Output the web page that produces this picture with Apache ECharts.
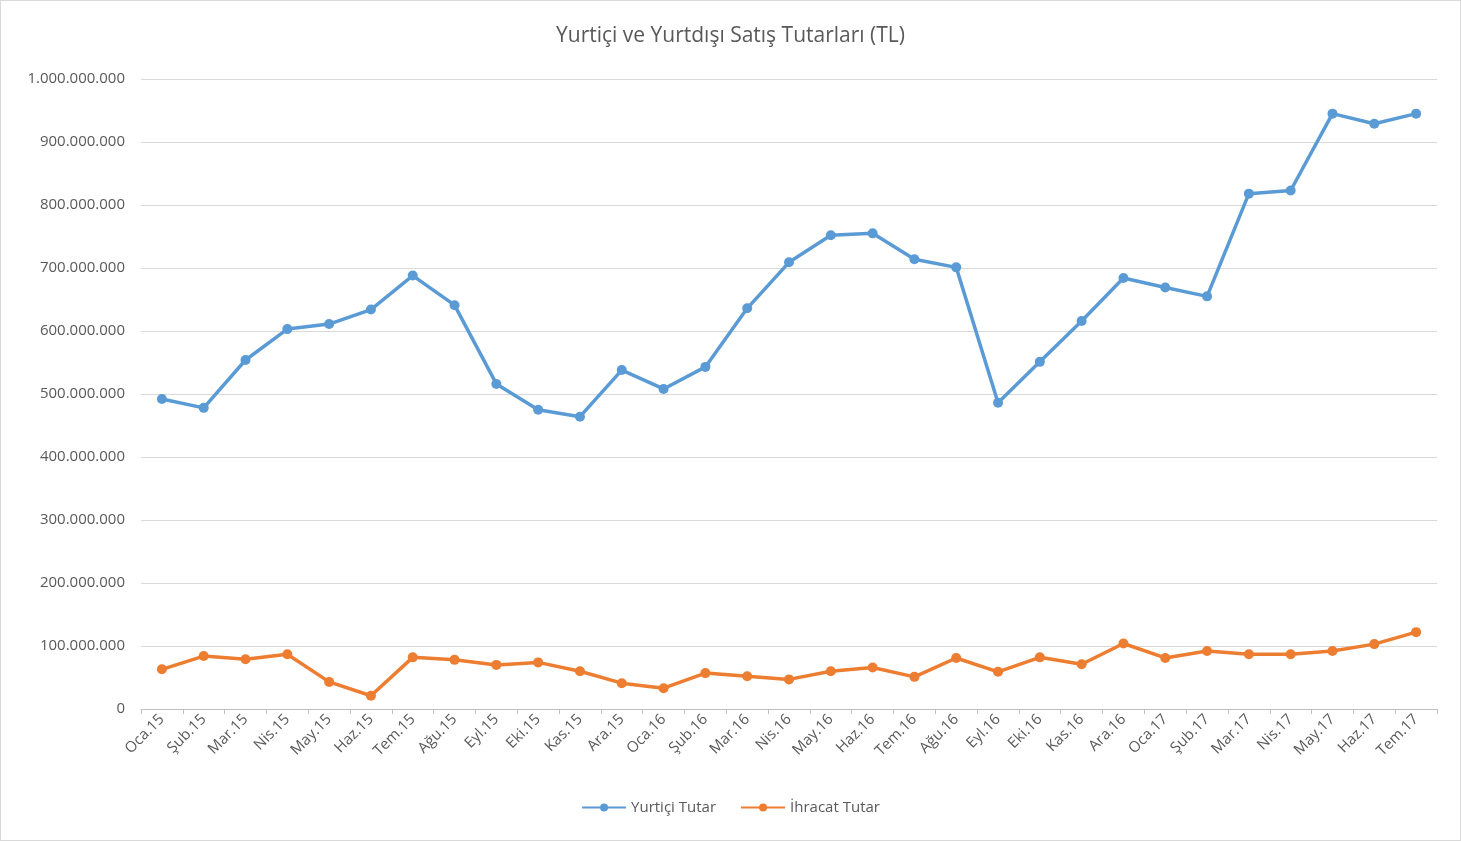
<!DOCTYPE html>
<html><head><meta charset="utf-8">
<script src="https://cdn.jsdelivr.net/npm/echarts@6/dist/echarts.min.js"></script>
<style>html,body{margin:0;padding:0;background:#fff}#c{width:1461px;height:841px;box-sizing:border-box;border:1px solid #d9d9d9}</style>
</head><body><div id="c"></div>
<script>
const categories=["Oca.15","Şub.15","Mar.15","Nis.15","May.15","Haz.15","Tem.15","Ağu.15","Eyl.15","Eki.15","Kas.15","Ara.15","Oca.16","Şub.16","Mar.16","Nis.16","May.16","Haz.16","Tem.16","Ağu.16","Eyl.16","Eki.16","Kas.16","Ara.16","Oca.17","Şub.17","Mar.17","Nis.17","May.17","Haz.17","Tem.17"];
const yurtici=[492,478,554,603,611,634,688,641,516,475,464,538,508,543,636,709,752,755,714,701,486,551,616,684,669,655,818,823,945,929,945].map(v=>v*1e6);
const ihracat=[63,84,79,87,43,21,82,78,70,74,60,41,33,57,52,47,60,66,51,81,59,82,71,104,81,92,87,87,92,103,122].map(v=>v*1e6);
const fmt=v=>String(Math.round(v)).replace(/\B(?=(\d{3})+(?!\d))/g,'.');
const font='"Open Sans", "Noto Sans", sans-serif';
const ch=echarts.init(document.getElementById('c'));
ch.setOption({
 animation:false,
 textStyle:{fontFamily:font},
 title:{text:'Yurtiçi ve Yurtdışı Satış Tutarları (TL)',left:'center',top:20,textStyle:{fontSize:21,fontWeight:'normal',color:'#595959',fontFamily:font}},
 legend:{bottom:20,itemWidth:44,itemHeight:10,itemGap:24,textStyle:{fontSize:15,color:'#595959'},data:['Yurtiçi Tutar','İhracat Tutar']},
 grid:{left:140,right:23,top:78,bottom:131},
 xAxis:{type:'category',data:categories,boundaryGap:true,
  axisLine:{lineStyle:{color:'#bfbfbf'}},axisTick:{show:true,alignWithLabel:false,lineStyle:{color:'#bfbfbf'}},
  axisLabel:{rotate:45,fontSize:15,color:'#595959',interval:0,margin:8}},
 yAxis:{type:'value',min:0,max:1e9,interval:1e8,
  axisLabel:{formatter:fmt,fontSize:15,color:'#595959',margin:16},
  splitLine:{lineStyle:{color:'#d9d9d9'}},axisLine:{show:false},axisTick:{show:false}},
 series:[
  {name:'Yurtiçi Tutar',type:'line',data:yurtici,symbol:'circle',symbolSize:10,lineStyle:{width:3.5,color:'#5b9bd5'},itemStyle:{color:'#5b9bd5'}},
  {name:'İhracat Tutar',type:'line',data:ihracat,symbol:'circle',symbolSize:10,lineStyle:{width:3.5,color:'#ed7d31'},itemStyle:{color:'#ed7d31'}}
 ]
});
</script></body></html>
